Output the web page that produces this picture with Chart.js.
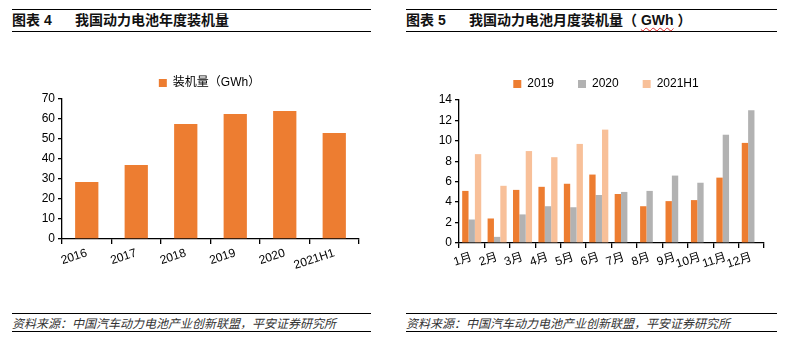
<!DOCTYPE html>
<html>
<head>
<meta charset="utf-8">
<script src="https://cdn.jsdelivr.net/npm/chart.js@4/dist/chart.umd.min.js"></script>
<style>
    body { margin: 0; background: #fff; width: 788px; height: 340px; position: relative; overflow: hidden; font-family: "Liberation Sans", "Noto Sans CJK SC", sans-serif; }
    .head { position: absolute; top: 9px; height: 21px; border-top: 1.3px solid #000; border-bottom: 1.3px solid #000; font-family: "Liberation Sans", "Noto Sans CJK SC", sans-serif; font-weight: bold; font-size: 14px; line-height: 21px; color: #111; }
    .head .no { display: inline-block; width: 63px; }
    .foot { position: absolute; top: 313px; height: 17px; border-top: 1.3px solid #000; border-bottom: 1.3px solid #000; font-family: "Noto Sans CJK SC", sans-serif; font-style: italic; font-size: 12px; line-height: 17px; color: #333; }
    .wavy { text-decoration: underline wavy #d22; text-underline-offset: 2px; text-decoration-thickness: 1px; }
    .box { position: absolute; top: 60px; height: 220px; }
</style>
</head>
<body>
<div class="head" style="left:12px; width:359px;"><span class="no">图表 4</span>我国动力电池年度装机量</div>
<div class="head" style="left:406px; width:371px;"><span class="no">图表 5</span>我国动力电池月度装机量（ <span class="wavy">GWh</span> ）</div>

<div class="box" style="left:0; width:380px;"><canvas id="graph"></canvas></div>
<div class="box" style="left:394px; width:394px;"><canvas id="graph-month"></canvas></div>

<div class="foot" style="left:12px; width:359px;">资料来源：中国汽车动力电池产业创新联盟，平安证券研究所</div>
<div class="foot" style="left:406px; width:371px;">资料来源：中国汽车动力电池产业创新联盟，平安证券研究所</div>

<script>
const years = ["2016", "2017", "2018", "2019", "2020", "2021H1"];
const yearValues = [28.5, 37, 57.5, 62.5, 64, 53];

const months = ["1月", "2月", "3月", "4月", "5月", "6月", "7月", "8月", "9月", "10月", "11月", "12月"];
const values2019 = [5.1, 2.4, 5.2, 5.5, 5.8, 6.7, 4.8, 3.6, 4.1, 4.2, 6.4, 9.8];
const values2020 = [2.3, 0.6, 2.8, 3.6, 3.5, 4.7, 5.0, 5.1, 6.6, 5.9, 10.6, 13.0];
const values2021 = [8.7, 5.6, 9.0, 8.4, 9.7, 11.1, null, null, null, null, null, null];

const ORANGE = "#ED7D31";
const GRAY = "#B2B2B2";
const PEACH = "#F8C099";

const tickFont = { family: "'Liberation Sans', 'Noto Sans CJK SC', sans-serif", size: 12 };

// moves the legend sideways after layout, the plot area stays where it is
const legendShift = {
    id: "legendShift",
    afterLayout(chart, args, opts) {
        if (chart.legend && opts.x) {
            chart.legend.left += opts.x;
            chart.legend.right += opts.x;
        }
    }
};

const axisX = (height) => ({
    offset: true,
    border: { color: "#000", width: 1.3 },
    grid: { display: true, offset: true, drawOnChartArea: false, drawTicks: true, tickLength: 5, color: "#000", lineWidth: 1.3 },
    ticks: { color: "#000", font: tickFont, minRotation: 18, maxRotation: 18, padding: 2, autoSkip: false },
    afterFit: (scale) => { scale.height = height; }
});

const axisY = (max, step, width) => ({
    min: 0,
    max: max,
    border: { color: "#000", width: 1.3 },
    grid: { display: true, drawOnChartArea: false, drawTicks: true, tickLength: 4, color: "#000", lineWidth: 1.3 },
    ticks: { stepSize: step, color: "#000", font: tickFont, padding: 3, autoSkip: false },
    afterFit: (scale) => { scale.width = width; }
});

const legendOpts = (padding) => ({
    display: true,
    position: "top",
    labels: {
        boxWidth: 8,
        boxHeight: 8,
        padding: padding,
        color: "#000",
        font: { family: "'Liberation Sans', 'Noto Sans CJK SC', sans-serif", size: 12 }
    }
});

const yearConfig = {
    type: "bar",
    data: {
        labels: years,
        datasets: [{
            label: "装机量（GWh）",
            data: yearValues,
            backgroundColor: ORANGE,
            categoryPercentage: 1,
            barPercentage: 0.47
        }]
    },
    options: {
        responsive: true,
        maintainAspectRatio: false,
        animation: false,
        layout: { padding: { top: 7, right: 21, left: 0, bottom: 0 } },
        plugins: { legend: legendOpts(10), legendShift: { x: 30 }, tooltip: { enabled: false } },
        scales: {
            x: axisX(41),
            y: axisY(70, 10, 62)
        }
    },
    plugins: [legendShift]
};

const monthConfig = {
    type: "bar",
    data: {
        labels: months,
        datasets: [
            { label: "2019", data: values2019, backgroundColor: ORANGE },
            { label: "2020", data: values2020, backgroundColor: GRAY },
            { label: "2021H1", data: values2021, backgroundColor: PEACH }
        ]
    },
    options: {
        responsive: true,
        maintainAspectRatio: false,
        animation: false,
        datasets: { bar: { categoryPercentage: 0.75, barPercentage: 1 } },
        layout: { padding: { top: -6, right: 24, left: 0, bottom: 0 } },
        plugins: { legend: legendOpts(24), legendShift: { x: 27 }, tooltip: { enabled: false } },
        scales: {
            x: axisX(37),
            y: axisY(14, 2, 65)
        }
    },
    plugins: [legendShift]
};

new Chart(document.querySelector("#graph"), yearConfig);
new Chart(document.querySelector("#graph-month"), monthConfig);
</script>
</body>
</html>
